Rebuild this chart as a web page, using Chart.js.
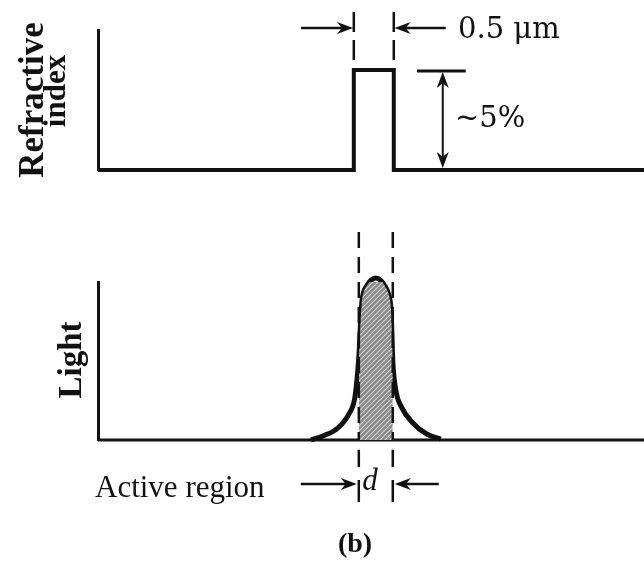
<!DOCTYPE html>
<html>
<head>
<meta charset="utf-8">
<script src="https://cdn.jsdelivr.net/npm/chart.js@4.4.1/dist/chart.umd.min.js"></script>
<style>
  body { margin: 0; background: #fff; }
  #wrap { position: relative; width: 644px; height: 562px; }
  #wrap canvas { position: absolute; left: 0; top: 0; }
</style>
</head>
<body>
<div id="wrap">
  <canvas id="indexChart" width="644" height="562"></canvas>
  <canvas id="lightChart" width="644" height="562"></canvas>
</div>
<script>
// === Data (x in um, index step in %, light normalised to peak) ===
const rangeX = [-3.45, 3.38];
const indexX = [-3.45, -0.25, -0.25, 0.25, 0.25, 3.38];
const indexY = [0, 0, 5, 5, 0, 0];
const guideEdges = [-0.25, 0.25];
const stepPct = 5;

const lightX = [-0.7875, -0.6375, -0.45, -0.3125, -0.2375, -0.2, -0.18125, -0.16875, -0.15, -0.125,
  -0.0875, -0.0375, 0.025, 0.0875, 0.1375, 0.175, 0.2, 0.21625, 0.225, 0.2375,
  0.275, 0.35, 0.4875, 0.6625, 0.8375];
const lightY = [0, 0.025, 0.074, 0.16, 0.26, 0.43, 0.56, 0.7, 0.85, 0.915,
  0.952, 0.985, 1.0, 0.985, 0.952, 0.915, 0.87, 0.8, 0.68, 0.49,
  0.31, 0.2, 0.105, 0.037, 0.006];
const activeX = [-0.1875, -0.18125, -0.16875, -0.15, -0.125, -0.0875, -0.0375, 0.025,
  0.0875, 0.1375, 0.175, 0.2, 0.21625, 0.225, 0.2375];
const activeY = [0.52, 0.56, 0.7, 0.85, 0.915, 0.952, 0.985, 1.0,
  0.985, 0.952, 0.915, 0.87, 0.8, 0.68, 0.49];
const baseX = [-3.45, 3.38];
const baseY = [0, 0];

const ink = "#111";

function pts(xs, ys) {
  return xs.map((x, i) => ({ x: x, y: ys[i] }));
}

// grey hatch for the active region
function makeHatch() {
  const c = document.createElement("canvas");
  c.width = 5;
  c.height = 5;
  const g = c.getContext("2d");
  g.fillStyle = "#888";
  g.fillRect(0, 0, 5, 5);
  g.strokeStyle = "#d6d6d6";
  g.lineWidth = 1.1;
  g.beginPath();
  g.moveTo(0, 5); g.lineTo(5, 0);
  g.moveTo(-1, 1); g.lineTo(1, -1);
  g.moveTo(4, 6); g.lineTo(6, 4);
  g.stroke();
  return g.createPattern(c, "repeat");
}

function arrow(ctx, x1, y1, x2, y2) {
  const a = Math.atan2(y2 - y1, x2 - x1);
  const L = 16, W = 6;
  const c = Math.cos(a), s = Math.sin(a);
  ctx.beginPath();
  ctx.moveTo(x1, y1);
  ctx.lineTo(x2 - c * L * 0.6, y2 - s * L * 0.6);
  ctx.stroke();
  ctx.beginPath();
  ctx.moveTo(x2, y2);
  ctx.lineTo(x2 - L * c + W * s, y2 - L * s - W * c);
  ctx.lineTo(x2 - L * 0.7 * c, y2 - L * 0.7 * s);
  ctx.lineTo(x2 - L * c - W * s, y2 - L * s + W * c);
  ctx.closePath();
  ctx.fill();
}

function vline(ctx, x, y1, y2, dash) {
  ctx.save();
  ctx.setLineDash(dash || []);
  ctx.beginPath();
  ctx.moveTo(x, y1);
  ctx.lineTo(x, y2);
  ctx.stroke();
  ctx.restore();
}

function rotText(ctx, text, x, y, font) {
  ctx.save();
  ctx.translate(x, y);
  ctx.rotate(-Math.PI / 2);
  ctx.font = font;
  ctx.textAlign = "center";
  ctx.textBaseline = "alphabetic";
  ctx.fillText(text, 0, 0);
  ctx.restore();
}

function baseOptions(pad, yMin, yMax) {
  return {
    responsive: false,
    animation: false,
    events: [],
    layout: { padding: pad },
    plugins: { legend: { display: false }, tooltip: { enabled: false } },
    elements: { point: { radius: 0 }, line: { borderColor: ink, tension: 0 } },
    scales: {
      x: { type: "linear", display: false, min: rangeX[0], max: rangeX[1] },
      y: {
        min: yMin,
        max: yMax,
        ticks: { display: false },
        grid: { display: false, drawTicks: false, tickLength: 0 },
        border: { display: true, color: ink, width: 3 },
      },
    },
  };
}

// === Annotations: refractive index panel ===
const indexNotes = {
  id: "indexNotes",
  afterDatasetsDraw(chart) {
    const { ctx, scales: { x, y } } = chart;
    ctx.save();
    ctx.strokeStyle = ink;
    ctx.fillStyle = ink;
    ctx.lineWidth = 2.5;

    // guide edges + width arrows
    guideEdges.forEach((e) => vline(ctx, x.getPixelForValue(e), y.getPixelForValue(7.9), y.getPixelForValue(5.35), [20, 8]));
    arrow(ctx, x.getPixelForValue(-0.91), y.getPixelForValue(7.1), x.getPixelForValue(-0.26), y.getPixelForValue(7.1));
    arrow(ctx, x.getPixelForValue(0.9), y.getPixelForValue(7.1), x.getPixelForValue(0.26), y.getPixelForValue(7.1));

    // step height
    ctx.lineWidth = 3;
    ctx.beginPath();
    ctx.moveTo(x.getPixelForValue(0.54), y.getPixelForValue(stepPct - 0.05));
    ctx.lineTo(x.getPixelForValue(1.15), y.getPixelForValue(stepPct - 0.05));
    ctx.stroke();
    ctx.lineWidth = 2;
    const hx = x.getPixelForValue(0.8625);
    const mid = y.getPixelForValue(stepPct / 2);
    arrow(ctx, hx, mid, hx, y.getPixelForValue(stepPct - 0.1));
    arrow(ctx, hx, mid, hx, y.getPixelForValue(0.1));

    ctx.font = "29px 'DejaVu Serif'";
    ctx.textBaseline = "alphabetic";
    ctx.fillText("0.5 \u03bcm", 458, 38);
    ctx.fillText("~5%", 455, 127);

    rotText(ctx, "Refractive", 43, 100, "bold 35px 'Liberation Serif'");
    rotText(ctx, "index", 65, 91, "bold 31px 'Liberation Serif'");
    ctx.restore();
  },
};

// === Annotations: light panel ===
const lightNotes = {
  id: "lightNotes",
  afterDatasetsDraw(chart) {
    const { ctx, scales: { x, y } } = chart;
    const ax = [-0.1875, 0.2375];
    ctx.save();
    ctx.strokeStyle = ink;
    ctx.fillStyle = ink;
    ctx.lineWidth = 2.5;
    ax.forEach((e) => {
      const px = x.getPixelForValue(e);
      vline(ctx, px, y.getPixelForValue(1.284), y.getPixelForValue(0), [16, 9]);
      vline(ctx, px, y.getPixelForValue(-0.06), y.getPixelForValue(-0.167));
      vline(ctx, px, y.getPixelForValue(-0.247), y.getPixelForValue(-0.383));
    });
    const ay = y.getPixelForValue(-0.272);
    arrow(ctx, x.getPixelForValue(-0.9125), ay, x.getPixelForValue(-0.2125), ay);
    arrow(ctx, x.getPixelForValue(0.8125), ay, x.getPixelForValue(0.2625), ay);

    ctx.textBaseline = "alphabetic";
    ctx.font = "31px 'Liberation Serif'";
    ctx.textAlign = "left";
    ctx.fillText("Active region", 95, 497);
    ctx.textAlign = "center";
    ctx.font = "italic 31px 'Liberation Serif'";
    ctx.fillText("d", 370, 490);
    ctx.font = "bold 28px 'Liberation Serif'";
    ctx.fillText("(b)", 355, 552);

    rotText(ctx, "Light", 81, 360, "bold 33px 'Liberation Serif'");
    ctx.restore();
  },
};

// === Charts ===
new Chart(document.getElementById("indexChart"), {
  type: "line",
  data: {
    datasets: [
      { data: pts(indexX, indexY), borderWidth: 4, borderJoinStyle: "miter", clip: false, fill: false },
    ],
  },
  options: baseOptions({ left: 98, top: 30, right: 0, bottom: 392 }, 0, 7),
  plugins: [indexNotes],
});

new Chart(document.getElementById("lightChart"), {
  type: "line",
  data: {
    datasets: [
      { data: pts(activeX, activeY), borderWidth: 0, backgroundColor: makeHatch(), fill: "origin", clip: false, cubicInterpolationMode: "monotone" },
      { data: pts(baseX, baseY), borderWidth: 3, clip: false, fill: false },
      { data: pts(lightX, lightY), borderWidth: 5, clip: false, fill: false, cubicInterpolationMode: "monotone" },
    ],
  },
  options: baseOptions({ left: 98, top: 282, right: 0, bottom: 122 }, 0, 0.975),
  plugins: [lightNotes],
});
</script>
</body>
</html>
